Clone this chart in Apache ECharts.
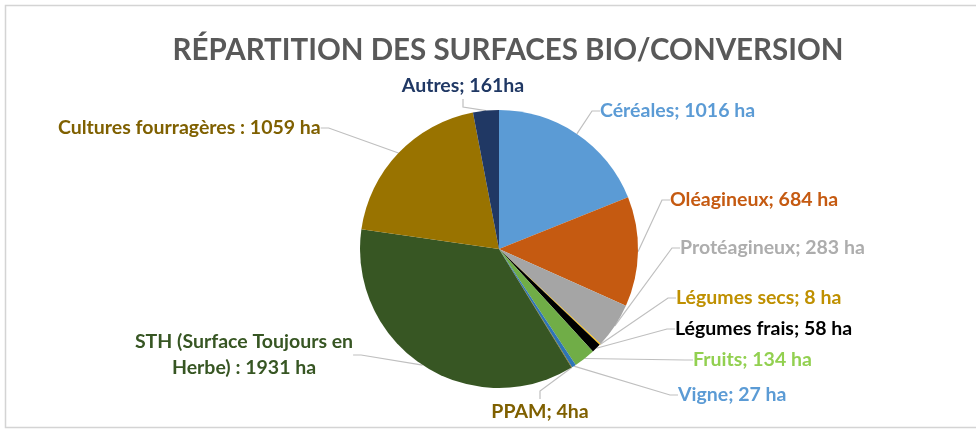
<!DOCTYPE html>
<html>
<head>
<meta charset="utf-8">
<script src="https://cdn.jsdelivr.net/npm/echarts@6/dist/echarts.min.js"></script>
<style>html,body{margin:0;padding:0;background:#fff;}#chart{width:976px;height:432px;}</style>
</head>
<body>
<div id="chart"></div>
<script>
// ---- data ----
const titleText = 'RÉPARTITION DES SURFACES BIO/CONVERSION';
const categories = ['Céréales', 'Oléagineux', 'Protéagineux', 'Légumes secs', 'Légumes frais', 'Fruits', 'Vigne', 'PPAM', 'STH (Surface Toujours en\nHerbe)', 'Cultures fourragères', 'Autres'];
const values = [1016, 684, 283, 8, 58, 134, 27, 4, 1931, 1059, 161];
const nameSeparators = ['; ', '; ', '; ', '; ', '; ', '; ', '; ', '; ', ' : ', ' : ', '; '];
const unitSeparators = [' ', ' ', ' ', ' ', ' ', ' ', ' ', '', ' ', ' ', ''];
const unit = 'ha';

// ---- styles ----
const sliceColors = ['#5B9BD5', '#C55A11', '#A5A5A5', '#FFC000', '#000000', '#70AD47', '#2E75B6', '#7F6000', '#375623', '#997300', '#203864'];
const labelColors = ['#5B9BD5', '#C55A11', '#ADADAD', '#BF9000', '#000000', '#92D050', '#5B9BD5', '#7F6000', '#375623', '#7F6000', '#203864'];
// label anchor positions [x, y, align]
const labelPos = [
  [600, 111, 'left'],
  [670, 200, 'left'],
  [680, 248, 'left'],
  [676, 298, 'left'],
  [675, 329, 'left'],
  [693, 360, 'left'],
  [678, 395, 'left'],
  [540, 412, 'center'],
  [244, 355, 'center'],
  [58, 128, 'left'],
  [463, 86, 'center']
];

const chart = echarts.init(document.getElementById('chart'), null, {renderer: 'canvas'});
const FONT = 'Lato';
const data = categories.map((c, i) => ({
  name: c,
  value: values[i],
  itemStyle: {color: sliceColors[i]},
  label: {color: labelColors[i]}
}));

chart.setOption({
  animation: false,
  backgroundColor: '#ffffff',
  title: {
    text: titleText,
    left: 503,
    textAlign: 'center',
    top: 30,
    textStyle: {fontFamily: FONT, fontWeight: 'bold', fontSize: 29.5, color: '#595959'}
  },
  graphic: [{
    type: 'rect',
    shape: {x: 5.5, y: 5.5, width: 1000, height: 422},
    style: {fill: 'none', stroke: '#d4d4d4', lineWidth: 1.5},
    silent: true
  }],
  series: [{
    type: 'pie',
    center: [499, 249],
    radius: 139,
    startAngle: 90,
    clockwise: true,
    data: data,
    itemStyle: {borderWidth: 0},
    label: {
      show: true,
      position: 'outside',
      fontFamily: FONT,
      fontWeight: 'bold',
      fontSize: 19.5,
      lineHeight: 26,
      formatter: p => categories[p.dataIndex] + nameSeparators[p.dataIndex] + values[p.dataIndex] + unitSeparators[p.dataIndex] + unit
    },
    labelLine: {show: true, length: 10, length2: 8, lineStyle: {color: '#BFBFBF', width: 1.2}},
    labelLayout: function (params) {
      const p = labelPos[params.dataIndex];
      return {x: p[0], y: p[1], align: p[2], verticalAlign: 'middle'};
    }
  }]
});
</script>
</body>
</html>
